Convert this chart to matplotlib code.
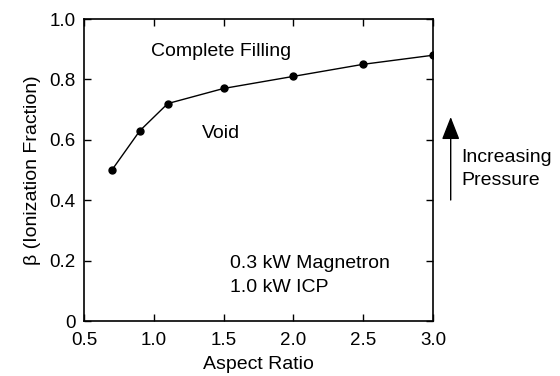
import matplotlib
matplotlib.use('Agg')
import matplotlib.pyplot as plt

# Aspect ratio vs ionization fraction
aspect_ratio = [0.7, 0.9, 1.1, 1.5, 2.0, 2.5, 3.0]
beta = [0.50, 0.63, 0.72, 0.77, 0.81, 0.85, 0.88]

xticks = [0.5, 1.0, 1.5, 2.0, 2.5, 3.0]
xtick_labels = ['0.5', '1.0', '1.5', '2.0', '2.5', '3.0']
yticks = [0, 0.2, 0.4, 0.6, 0.8, 1.0]
ytick_labels = ['0', '0.2', '0.4', '0.6', '0.8', '1.0']

plt.rcParams['font.family'] = ['Liberation Sans', 'DejaVu Sans']
fs = 14

fig = plt.figure(figsize=(5.6, 3.76), dpi=100)
ax = fig.add_axes([84 / 560, 1 - 321 / 376, 349 / 560, 302 / 376])

ax.plot(aspect_ratio, beta, color='black', lw=1.0, marker='o', ms=5)

ax.set_xlim(0.5, 3.0)
ax.set_ylim(0, 1.0)
ax.set_xticks(xticks)
ax.set_xticklabels(xtick_labels)
ax.set_yticks(yticks)
ax.set_yticklabels(ytick_labels)
ax.tick_params(direction='in', length=5, width=1, top=True, right=True,
               labelsize=fs - 0.5, pad=6)
ax.tick_params(axis='x', pad=8)
for s in ax.spines.values():
    s.set_linewidth(1.2)

ax.set_xlabel('Aspect Ratio', fontsize=fs, labelpad=5)
ax.set_ylabel('β (Ionization Fraction)', fontsize=fs, labelpad=6)

ax.text(1.48, 0.893, 'Complete Filling', ha='center', va='center', fontsize=fs)
ax.text(1.48, 0.62, 'Void', ha='center', va='center', fontsize=fs)
ax.text(1.545, 0.19, '0.3 kW Magnetron', ha='left', va='center', fontsize=fs)
ax.text(1.545, 0.11, '1.0 kW ICP', ha='left', va='center', fontsize=fs)

# arrow and label outside the axes, in figure pixels
ax.annotate('', xy=(450.7 / 560, 1 - 117 / 376), xytext=(450.7 / 560, 1 - 200 / 376),
            xycoords='figure fraction',
            arrowprops=dict(arrowstyle='-|>,head_length=1.4,head_width=0.55',
                            mutation_scale=10, color='black', lw=1.0,
                            shrinkA=0, shrinkB=0))
fig.text(461 / 560, 1 - 157 / 376, 'Increasing', ha='left', va='center', fontsize=fs)
fig.text(461 / 560, 1 - 180 / 376, 'Pressure', ha='left', va='center', fontsize=fs)

fig.savefig('out.png', dpi=100)
